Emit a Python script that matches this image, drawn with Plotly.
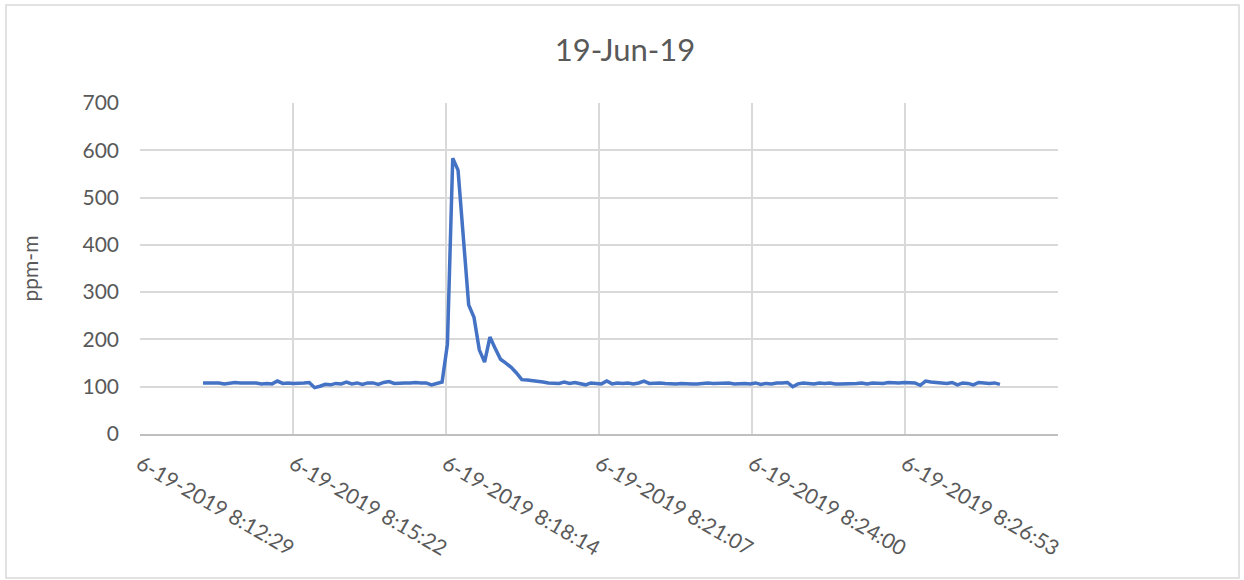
import plotly.graph_objects as go
import pandas as pd

title_text = "19-Jun-19"
y_title = "ppm-m"
start_time = "2019-06-19 08:13:40"
step_seconds = 6

ppm_values = [
    108, 108, 107, 108, 106, 107, 109, 108, 108, 107,
    108, 106, 107, 106, 112, 107, 108, 107, 107, 108,
    109, 98, 101, 105, 104, 107, 106, 110, 106, 108,
    105, 108, 108, 105, 109, 111, 107, 108, 108, 108,
    109, 108, 108, 104, 107,
    110, 190, 583, 558, 415, 273, 247, 178, 152, 205, 181, 158, 150, 141, 129, 115, 114,
    113, 111, 110, 108, 108, 107, 110, 107,
    109, 107, 104, 108, 107, 106, 112, 106, 108, 107,
    108, 106, 108, 112, 107, 108, 108, 107, 106, 106,
    107, 106, 106, 106, 107, 108, 107, 107, 108, 108,
    106, 107, 107, 106, 108, 105, 107, 106, 108, 108,
    109, 100, 106, 108, 107, 106, 108, 107, 108, 106,
    106, 106, 107, 107, 108, 106, 108, 108, 107, 109,
    108, 108, 109, 108, 108, 103, 112, 110, 109, 108,
    107, 109, 104, 108, 107, 104, 109, 108, 107, 108, 105,
]

times = pd.date_range(start=start_time, periods=len(ppm_values), freq=f"{step_seconds}s")

x_tick_vals = [
    "2019-06-19 08:12:28.8", "2019-06-19 08:15:21.6", "2019-06-19 08:18:14.4",
    "2019-06-19 08:21:07.2", "2019-06-19 08:24:00", "2019-06-19 08:26:52.8",
    "2019-06-19 08:29:45.6",
]
x_tick_text = [
    "6-19-2019 8:12:29", "6-19-2019 8:15:22", "6-19-2019 8:18:14",
    "6-19-2019 8:21:07", "6-19-2019 8:24:00", "6-19-2019 8:26:53", "",
]
y_tick_vals = [0, 100, 200, 300, 400, 500, 600, 700]

font_family = "Lato, Open Sans, sans-serif"
text_color = "#595959"

fig = go.Figure()
fig.add_trace(go.Scatter(
    x=times, y=ppm_values, mode="lines",
    line=dict(color="#4472c4", width=3.5),
    showlegend=False,
))

L, R, T, B = 140, 186, 103, 146
W, H = 1244, 580
pw, ph = W - L - R, H - T - B

def px_x(p):
    return (p - L) / pw

def px_y(p):
    return (H - B - p) / ph

fig.update_layout(
    width=W, height=H,
    margin=dict(l=L, r=R, t=T, b=B),
    paper_bgcolor="white", plot_bgcolor="white",
    font=dict(family=font_family, color=text_color, size=21),
    title=dict(text=title_text, x=625 / W, xanchor="center", y=1 - 50 / H, yanchor="middle",
               font=dict(size=31, color=text_color, family=font_family)),
    xaxis=dict(
        type="date",
        range=[x_tick_vals[0], x_tick_vals[-1]],
        tickmode="array", tickvals=x_tick_vals, ticktext=x_tick_text,
        tickangle=30, showgrid=True, gridcolor="#d9d9d9", gridwidth=1.5,
        showline=True, linecolor="#bfbfbf", linewidth=1.5,
        ticks="", ticklen=0, zeroline=False, ticklabelstandoff=8,
        tickfont=dict(size=21, color=text_color),
    ),
    yaxis=dict(
        range=[0, 700], tickmode="array", tickvals=y_tick_vals,
        showgrid=True, gridcolor="#d9d9d9", gridwidth=1.5,
        zeroline=False, showline=False, ticks="", ticklen=0,
        ticklabelstandoff=20,
        title=dict(text=y_title, font=dict(size=21, color=text_color), standoff=38),
        tickfont=dict(size=21, color=text_color),
    ),
    shapes=[dict(
        type="rect", xref="paper", yref="paper",
        x0=px_x(6), x1=px_x(1239), y0=px_y(578), y1=px_y(5),
        line=dict(color="#d9d9d9", width=1.5), fillcolor="rgba(0,0,0,0)", layer="below",
    )],
)

fig.write_html(
    "out.html",
    config={"displayModeBar": False},
    post_script="document.body.style.margin='0';document.body.style.padding='0';",
)
